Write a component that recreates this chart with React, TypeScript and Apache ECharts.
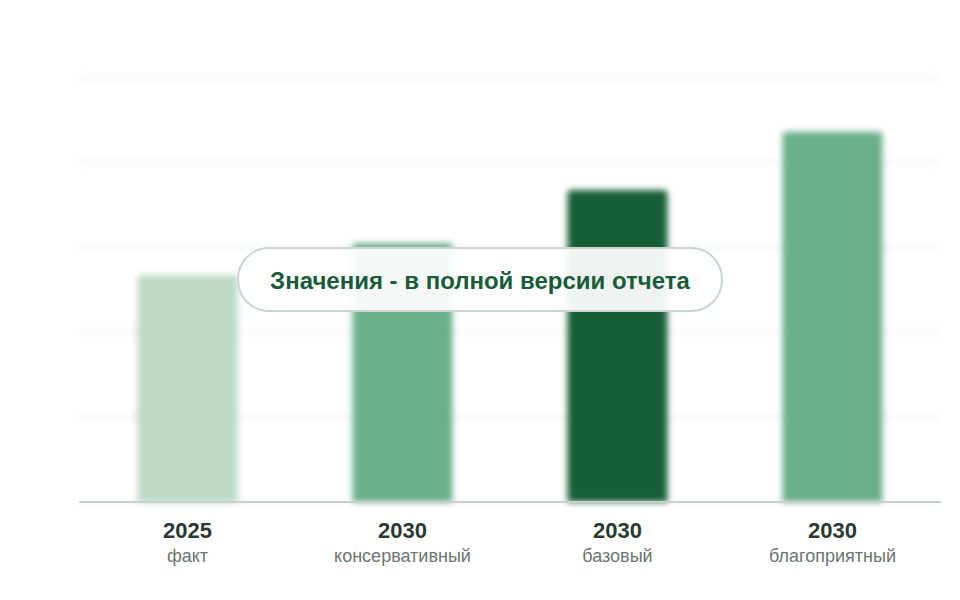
import * as echarts from "echarts";
import { useEffect, useRef } from "react";

const years = ["2025", "2030", "2030", "2030"];
const scenarios = ["факт", "консервативный", "базовый", "благоприятный"];
const values = [53.4, 60.9, 73.4, 87.1];
const barColors = ["#bcd9c8", "#6baf8a", "#175e38", "#6baf8a"];
const notice = "Значения - в полной версии отчета";

const FONT = "'Liberation Sans', Arial, sans-serif";
const GRID = { left: 80, right: 20, top: 77, bottom: 98 };

const App = () => {
  const backRef = useRef<HTMLDivElement>(null);
  const frontRef = useRef<HTMLDivElement>(null);

  useEffect(() => {
    document.body.style.margin = "0";
    const back = echarts.init(backRef.current as HTMLDivElement, null, { renderer: "svg" });
    const front = echarts.init(frontRef.current as HTMLDivElement, null, { renderer: "svg" });

    // blurred layer: bars and grid lines
    back.setOption({
      animation: false,
      grid: GRID,
      xAxis: {
        type: "category",
        data: years,
        axisLine: { show: false },
        axisTick: { show: false },
        axisLabel: { show: false },
      },
      yAxis: {
        type: "value",
        min: 0,
        max: 100,
        interval: 20,
        axisLabel: { show: false },
        splitLine: { lineStyle: { color: "#f1f2f1", width: 3 } },
      },
      series: [
        {
          type: "bar",
          barWidth: 100,
          data: values.map((v, i) => ({
            value: v,
            itemStyle: { color: barColors[i], borderRadius: [4, 4, 0, 0] },
          })),
        },
      ],
    });

    // crisp layer: axis, labels, notice pill
    front.setOption({
      animation: false,
      textStyle: { fontFamily: FONT },
      grid: GRID,
      xAxis: {
        type: "category",
        data: years.map((y, i) => `{y|${y}}\n{s|${scenarios[i]}}`),
        axisLine: { lineStyle: { color: "#c6d1cb", width: 2 } },
        axisTick: { show: false },
        axisLabel: {
          margin: 14,
          interval: 0,
          rich: {
            y: { fontFamily: FONT, fontSize: 22, fontWeight: "bold", color: "#2a3a32", lineHeight: 28 },
            s: { fontFamily: FONT, fontSize: 18, color: "#6b7571", lineHeight: 24 },
          },
        },
      },
      yAxis: {
        type: "value",
        min: 0,
        max: 100,
        interval: 20,
        axisLabel: { show: false },
        splitLine: { show: false },
      },
      series: [{ type: "bar", data: values.map(() => null) }],
      graphic: [
        {
          type: "rect",
          shape: { x: 238, y: 248, width: 484, height: 63, r: 31 },
          style: { fill: "rgba(255,255,255,0.93)", stroke: "#c9d5cd", lineWidth: 2 },
          z: 10,
        },
        {
          type: "text",
          x: 480,
          y: 280,
          style: {
            text: notice,
            fontFamily: FONT,
            fontSize: 24,
            fontWeight: "bold",
            fill: "#195b39",
            align: "center",
            verticalAlign: "middle",
          },
          z: 11,
        },
      ],
    });

    return () => {
      back.dispose();
      front.dispose();
    };
  }, []);

  return (
    <div style={{ position: "relative", width: 960, height: 600, background: "#fff" }}>
      <div
        ref={backRef}
        style={{ position: "absolute", left: 0, top: 0, width: 960, height: 600, filter: "blur(3px)" }}
      />
      <div ref={frontRef} style={{ position: "absolute", left: 0, top: 0, width: 960, height: 600 }} />
    </div>
  );
};

export default App;
